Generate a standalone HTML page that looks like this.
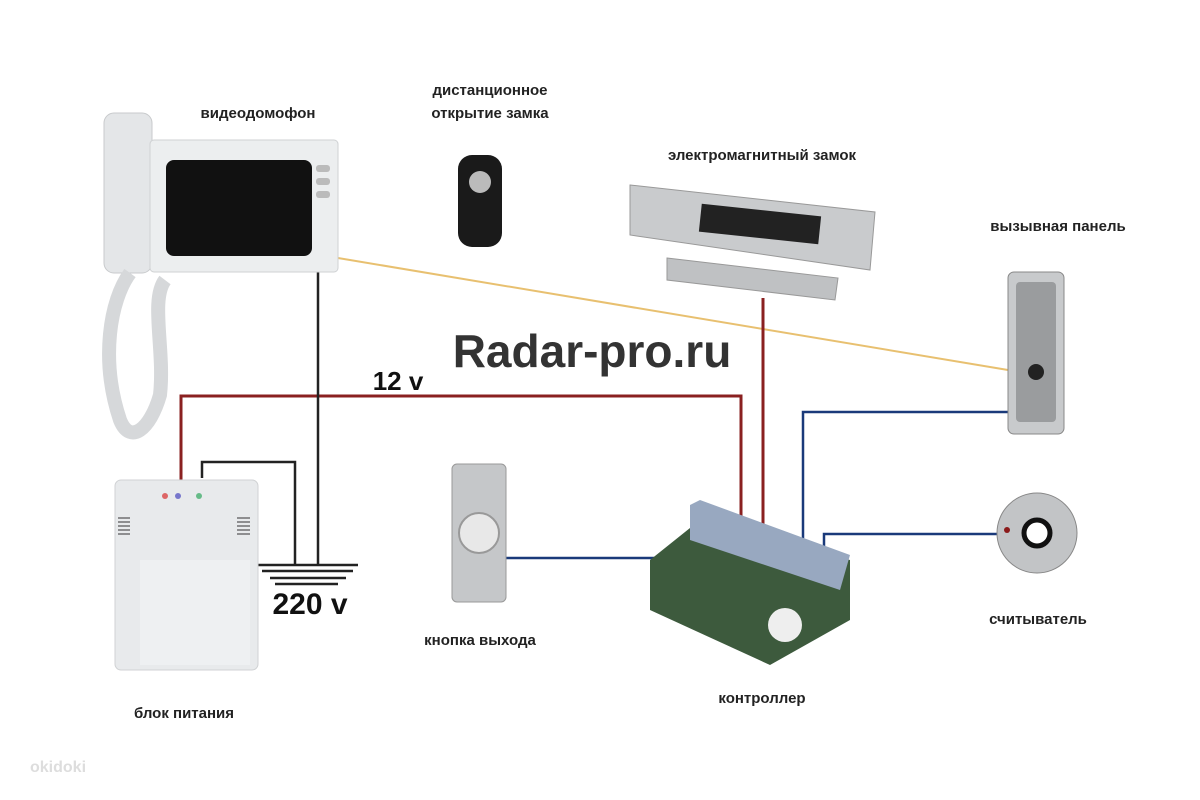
<!DOCTYPE html>
<html><head><meta charset="utf-8"><style>
html,body{margin:0;padding:0;background:#fff;}
svg{display:block;}
text{font-family:"Liberation Sans","DejaVu Sans",sans-serif;}
</style></head><body>
<svg width="1200" height="800" viewBox="0 0 1200 800" xmlns="http://www.w3.org/2000/svg">
<rect width="1200" height="800" fill="#fff"/>
<!-- wires -->
<line x1="338" y1="258" x2="1008" y2="370" stroke="#e8c070" stroke-width="2"/>
<polyline points="181,482 181,396 741,396 741,522" fill="none" stroke="#8a2020" stroke-width="3"/>
<line x1="763" y1="298" x2="763" y2="535" stroke="#8a2020" stroke-width="3"/>
<line x1="318" y1="272" x2="318" y2="565" stroke="#222" stroke-width="2.5"/>
<polyline points="202,478 202,462 295,462 295,565" fill="none" stroke="#222" stroke-width="2.5"/>
<line x1="258" y1="565" x2="358" y2="565" stroke="#222" stroke-width="2.5"/>
<line x1="262" y1="571" x2="353" y2="571" stroke="#222" stroke-width="2.5"/>
<line x1="270" y1="578" x2="346" y2="578" stroke="#222" stroke-width="2.5"/>
<line x1="275" y1="584" x2="338" y2="584" stroke="#222" stroke-width="2.5"/>
<line x1="505" y1="558" x2="662" y2="558" stroke="#1a3a7a" stroke-width="2.5"/>
<polyline points="1008,412 803,412 803,548" fill="none" stroke="#1a3a7a" stroke-width="2.5"/>
<polyline points="1000,534 824,534 824,562" fill="none" stroke="#1a3a7a" stroke-width="2.5"/>

<!-- videophone -->
<rect x="104" y="113" width="48" height="160" rx="10" fill="#e4e6e8" stroke="#c8cacc"/>
<rect x="150" y="140" width="188" height="132" rx="4" fill="#eceeef" stroke="#cfd1d3"/>
<rect x="166" y="160" width="146" height="96" rx="8" fill="#111"/>
<rect x="316" y="165" width="14" height="7" rx="3" fill="#bbb"/>
<rect x="316" y="178" width="14" height="7" rx="3" fill="#bbb"/>
<rect x="316" y="191" width="14" height="7" rx="3" fill="#bbb"/>
<path d="M130 273 C 110 300, 100 360, 120 420 C 130 445, 150 430, 160 395 C 165 350, 150 300, 165 280" fill="none" stroke="#d6d8da" stroke-width="14"/>
<!-- remote -->
<rect x="458" y="155" width="44" height="92" rx="14" fill="#1a1a1a"/>
<circle cx="480" cy="182" r="11" fill="#bbb"/>
<!-- magnetic lock -->
<polygon points="630,185 875,212 870,270 630,235" fill="#c9cbcd" stroke="#999"/>
<rect x="700" y="210" width="120" height="28" fill="#222" transform="rotate(6 760 224)"/>
<polygon points="667,258 838,278 835,300 667,280" fill="#bfc1c3" stroke="#999"/>
<!-- call panel -->
<rect x="1008" y="272" width="56" height="162" rx="6" fill="#c8cacc" stroke="#888"/>
<rect x="1016" y="282" width="40" height="140" rx="4" fill="#9a9c9e"/>
<circle cx="1036" cy="372" r="8" fill="#222"/>
<!-- power supply -->
<rect x="115" y="480" width="143" height="190" rx="6" fill="#e8eaec" stroke="#d0d2d4"/>
<rect x="140" y="560" width="110" height="105" fill="#eef0f2"/>
<circle cx="165" cy="496" r="3" fill="#d66"/><circle cx="178" cy="496" r="3" fill="#77c"/><circle cx="199" cy="496" r="3" fill="#6b8"/>
<g stroke="#333" stroke-width="1"><line x1="118" y1="518" x2="130" y2="518"/><line x1="118" y1="522" x2="130" y2="522"/><line x1="118" y1="526" x2="130" y2="526"/><line x1="118" y1="530" x2="130" y2="530"/><line x1="118" y1="534" x2="130" y2="534"/><line x1="237" y1="518" x2="250" y2="518"/><line x1="237" y1="522" x2="250" y2="522"/><line x1="237" y1="526" x2="250" y2="526"/><line x1="237" y1="530" x2="250" y2="530"/><line x1="237" y1="534" x2="250" y2="534"/></g>
<!-- exit button -->
<rect x="452" y="464" width="54" height="138" rx="5" fill="#c5c7c9" stroke="#999"/>
<circle cx="479" cy="533" r="20" fill="#e8e8e8" stroke="#999" stroke-width="2"/>
<!-- controller -->
<polygon points="650,560 700,520 850,560 850,620 770,665 650,610" fill="#3d5a3d"/>
<polygon points="690,505 700,500 850,555 840,590 690,540" fill="#98a8c0"/>
<circle cx="785" cy="625" r="17" fill="#eee"/>
<!-- reader -->
<circle cx="1037" cy="533" r="40" fill="#c2c4c6" stroke="#888"/>
<circle cx="1037" cy="533" r="13" fill="#fff" stroke="#111" stroke-width="5"/>
<circle cx="1007" cy="530" r="3" fill="#8b1a1a"/>

<!-- labels -->
<g fill="#222" font-size="15" font-weight="bold" text-anchor="middle">
<text x="258" y="118">видеодомофон</text>
<text x="490" y="95">дистанционное</text>
<text x="490" y="118">открытие замка</text>
<text x="762" y="160">электромагнитный замок</text>
<text x="1058" y="231">вызывная панель</text>
<text x="1038" y="624">считыватель</text>
<text x="480" y="645">кнопка выхода</text>
<text x="762" y="703">контроллер</text>
<text x="184" y="718">блок питания</text>
</g>
<text x="592" y="367" font-size="46" fill="#333" font-weight="bold" text-anchor="middle">Radar-pro.ru</text>
<text x="398" y="390" font-size="26" fill="#111" font-weight="bold" text-anchor="middle">12 v</text>
<text x="310" y="614" font-size="30" fill="#111" font-weight="bold" text-anchor="middle">220 v</text>
<text x="30" y="772" font-size="16" fill="#ddd" font-weight="bold">okidoki</text>
</svg>
</body></html>
